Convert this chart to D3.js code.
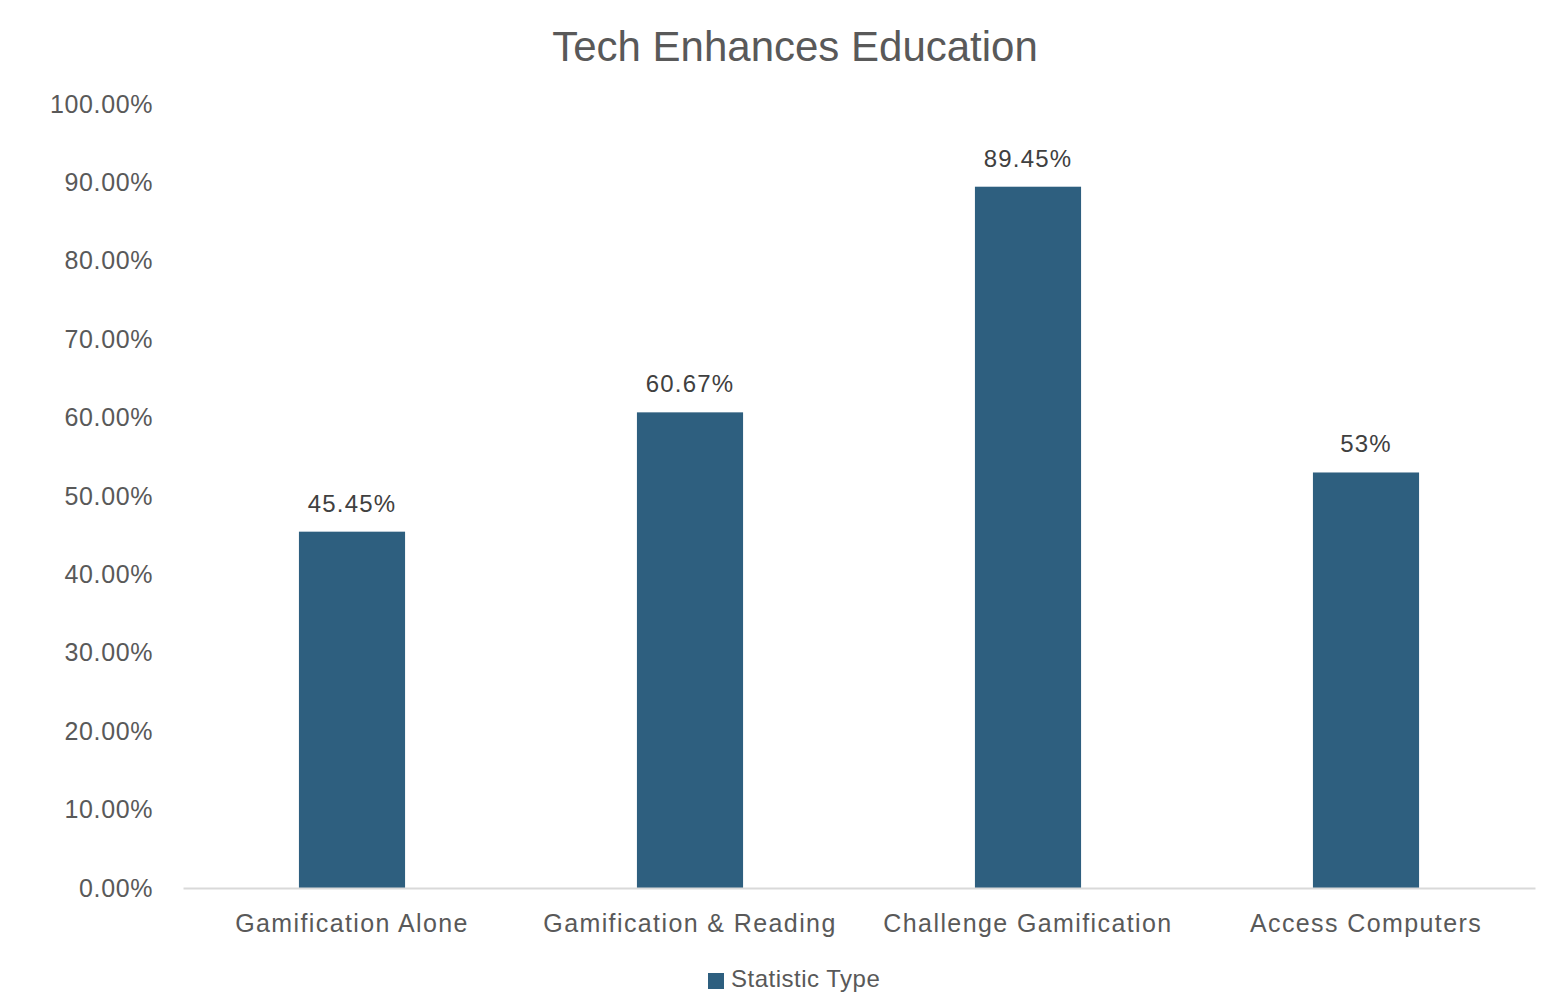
<!DOCTYPE html>
<html><head><meta charset="utf-8">
<script src="https://cdn.jsdelivr.net/npm/d3@7"></script>
<style>body{margin:0;background:#fff;font-family:"Liberation Sans",Arial,sans-serif;}</style>
</head><body><svg id="c" width="1542" height="1008"></svg>
<script>
const categories = ["Gamification Alone","Gamification & Reading","Challenge Gamification","Access Computers"];
const values = [0.4545, 0.6067, 0.8945, 0.53];
const valueLabels = ["45.45%","60.67%","89.45%","53%"];
const tickValues = [0,0.1,0.2,0.3,0.4,0.5,0.6,0.7,0.8,0.9,1.0];
const chartTitle = "Tech Enhances Education";
const seriesName = "Statistic Type";

(function(){
const svg = d3.select("#c");
const pLeft = 183, pRight = 1535, pTop = 104, pBottom = 888;
const x = d3.scaleBand().domain(categories).range([pLeft, pRight]).paddingInner(0.686).paddingOuter(0.343);
const y = d3.scaleLinear().domain([0, 1]).range([pBottom, pTop]);
const barColor = "#2E5F7F";

svg.append("text").attr("x", 795).attr("y", 61).attr("text-anchor", "middle")
  .attr("font-size", 42).attr("fill", "#595959").text(chartTitle);

const ya = svg.append("g").attr("transform", `translate(${pLeft},0)`)
  .call(d3.axisLeft(y).tickValues(tickValues).tickFormat(d3.format(".2%")).tickSize(0).tickPadding(30));
ya.select(".domain").remove();
ya.selectAll("text").attr("font-size", 25).attr("fill", "#595959").attr("font-family", "Liberation Sans, Arial, sans-serif").attr("letter-spacing", 0.6);

svg.selectAll("rect.bar").data(values).enter().append("rect").attr("class", "bar")
  .attr("x", (d, i) => x(categories[i])).attr("width", x.bandwidth())
  .attr("y", d => y(d)).attr("height", d => y(0) - y(d)).attr("fill", barColor);

svg.selectAll("text.vl").data(values).enter().append("text").attr("class", "vl")
  .attr("x", (d, i) => x(categories[i]) + x.bandwidth() / 2).attr("y", d => y(d) - 20)
  .attr("text-anchor", "middle").attr("font-size", 24).attr("letter-spacing", 1.2)
  .attr("fill", "#404040").text((d, i) => valueLabels[i]);

const xa = svg.append("g").attr("transform", `translate(0,${pBottom})`)
  .call(d3.axisBottom(x).tickSize(0).tickPadding(26));
xa.select(".domain").attr("stroke", "#D9D9D9").attr("stroke-width", 2);
xa.selectAll("text").attr("font-size", 25).attr("fill", "#595959").attr("font-family", "Liberation Sans, Arial, sans-serif").attr("letter-spacing", 1.4);

const lg = svg.append("g");
lg.append("rect").attr("x", 708).attr("y", 973).attr("width", 16).attr("height", 16).attr("fill", barColor);
lg.append("text").attr("x", 731).attr("y", 987).attr("font-size", 24).attr("letter-spacing", 0.5)
  .attr("fill", "#595959").text(seriesName);
})();
</script></body></html>
